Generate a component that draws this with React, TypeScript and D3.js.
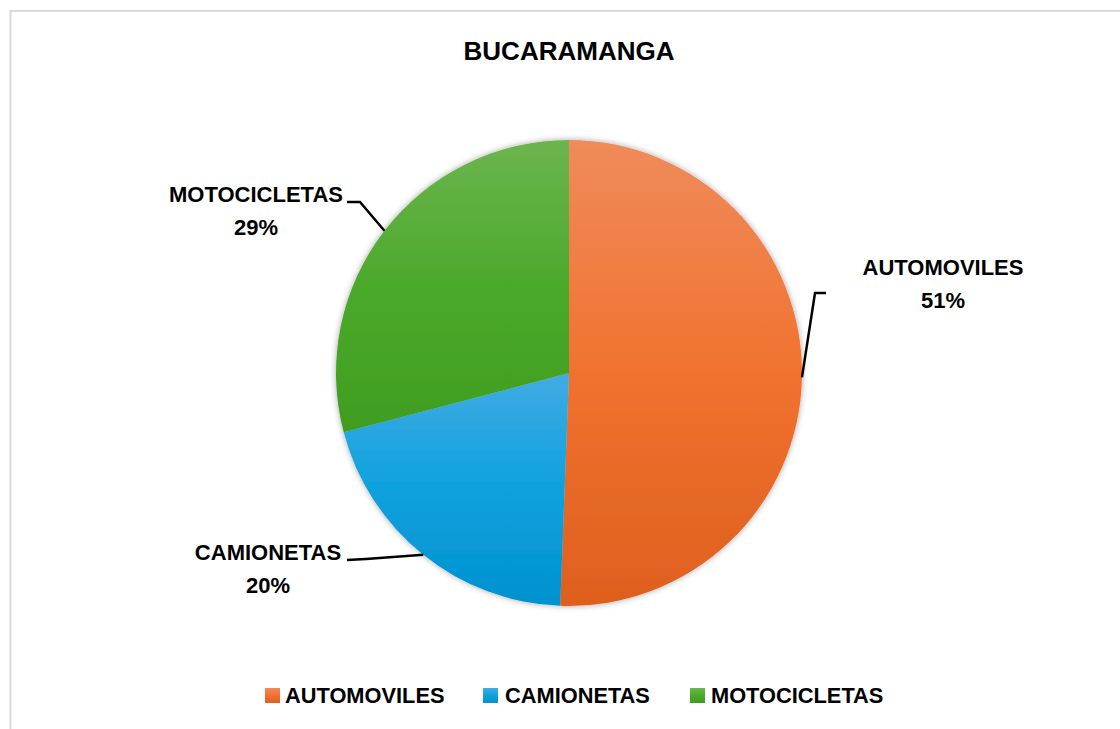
import React from "react";
import * as d3 from "d3";

const categories = ["AUTOMOVILES", "CAMIONETAS", "MOTOCICLETAS"];
const values = [50.6, 20.3, 29.1];
const title = "BUCARAMANGA";
const gradTop = ["#ef8b5b", "#42abe3", "#6cb54e"];
const gradMid = ["#f1722f", "#0ea1de", "#4ba92b"];
const gradBottom = ["#de5f1e", "#0092cf", "#3f9d1f"];

const W = 1120;
const H = 729;
const cx = 569;
const cy = 373;
const R = 233;

// label layout: elbow point, end of horizontal, text center and baseline
const labelLayout = [
  { elbow: [815, 293], end: [826, 293], tx: 943, ty: 275 },
  { elbow: [366, 559], end: [347, 560], tx: 268, ty: 560 },
  { elbow: [360, 202], end: [347, 202], tx: 256, ty: 202 },
];

export default function App() {
  const pie = d3.pie<number>().sort(null).startAngle(0).endAngle(2 * Math.PI);
  const arcs = pie(values);
  const arc = d3.arc<d3.PieArcDatum<number>>().innerRadius(0).outerRadius(R);
  const total = d3.sum(values);
  const fmt = (v: number) => `${Math.round((v / total) * 100)}%`;
  const font = "'Liberation Sans', Arial, sans-serif";

  const legendItems = [
    { sx: 265, tx: 285 },
    { sx: 483, tx: 505 },
    { sx: 690, tx: 711 },
  ];

  return (
    <svg
      width={W}
      height={H}
      style={{ position: "absolute", left: 0, top: 0, display: "block" }}
    >
      <defs>
        {categories.map((c, i) => (
          <linearGradient key={c} id={`g${i}`} x1="0" y1="0" x2="0" y2="1">
            <stop offset="0" stopColor={gradTop[i]} />
            <stop offset="0.5" stopColor={gradMid[i]} />
            <stop offset="1" stopColor={gradBottom[i]} />
          </linearGradient>
        ))}
        <filter id="shadow" x="-20%" y="-20%" width="140%" height="140%">
          <feDropShadow dx="0" dy="0" stdDeviation="3" floodColor="#000" floodOpacity="0.35" />
        </filter>
      </defs>
      <rect x={0} y={0} width={W} height={H} fill="#fff" />
      <path d={`M10.5,${H + 5} L10.5,11 L${W + 5},11`} fill="none" stroke="#d9d9d9" strokeWidth={2} />
      <text
        x={cx}
        y={60}
        textAnchor="middle"
        fontFamily={font}
        fontWeight="bold"
        fontSize={26}
        fill="#000"
      >
        {title}
      </text>
      <g transform={`translate(${cx},${cy})`} filter="url(#shadow)">
        {arcs.map((a, i) => (
          <path key={i} d={arc(a) || ""} fill={`url(#g${i})`} />
        ))}
      </g>
      {arcs.map((a, i) => {
        const mid = (a.startAngle + a.endAngle) / 2;
        const px = cx + R * Math.sin(mid);
        const py = cy - R * Math.cos(mid);
        const L = labelLayout[i];
        return (
          <g key={i}>
            <path
              d={`M${px},${py} L${L.elbow[0]},${L.elbow[1]} L${L.end[0]},${L.end[1]}`}
              fill="none"
              stroke="#000"
              strokeWidth={2.5}
            />
            <text
              x={L.tx}
              y={L.ty}
              textAnchor="middle"
              fontFamily={font}
              fontWeight="bold"
              fontSize={22}
              fill="#000"
            >
              {categories[i]}
            </text>
            <text
              x={L.tx}
              y={L.ty + 33}
              textAnchor="middle"
              fontFamily={font}
              fontWeight="bold"
              fontSize={22}
              fill="#000"
            >
              {fmt(values[i])}
            </text>
          </g>
        );
      })}
      {categories.map((c, i) => (
        <g key={c}>
          <rect x={legendItems[i].sx} y={688} width={15} height={15} fill={`url(#g${i})`} />
          <text
            x={legendItems[i].tx}
            y={703}
            fontFamily={font}
            fontWeight="bold"
            fontSize={21.8}
            fill="#000"
          >
            {c}
          </text>
        </g>
      ))}
    </svg>
  );
}
